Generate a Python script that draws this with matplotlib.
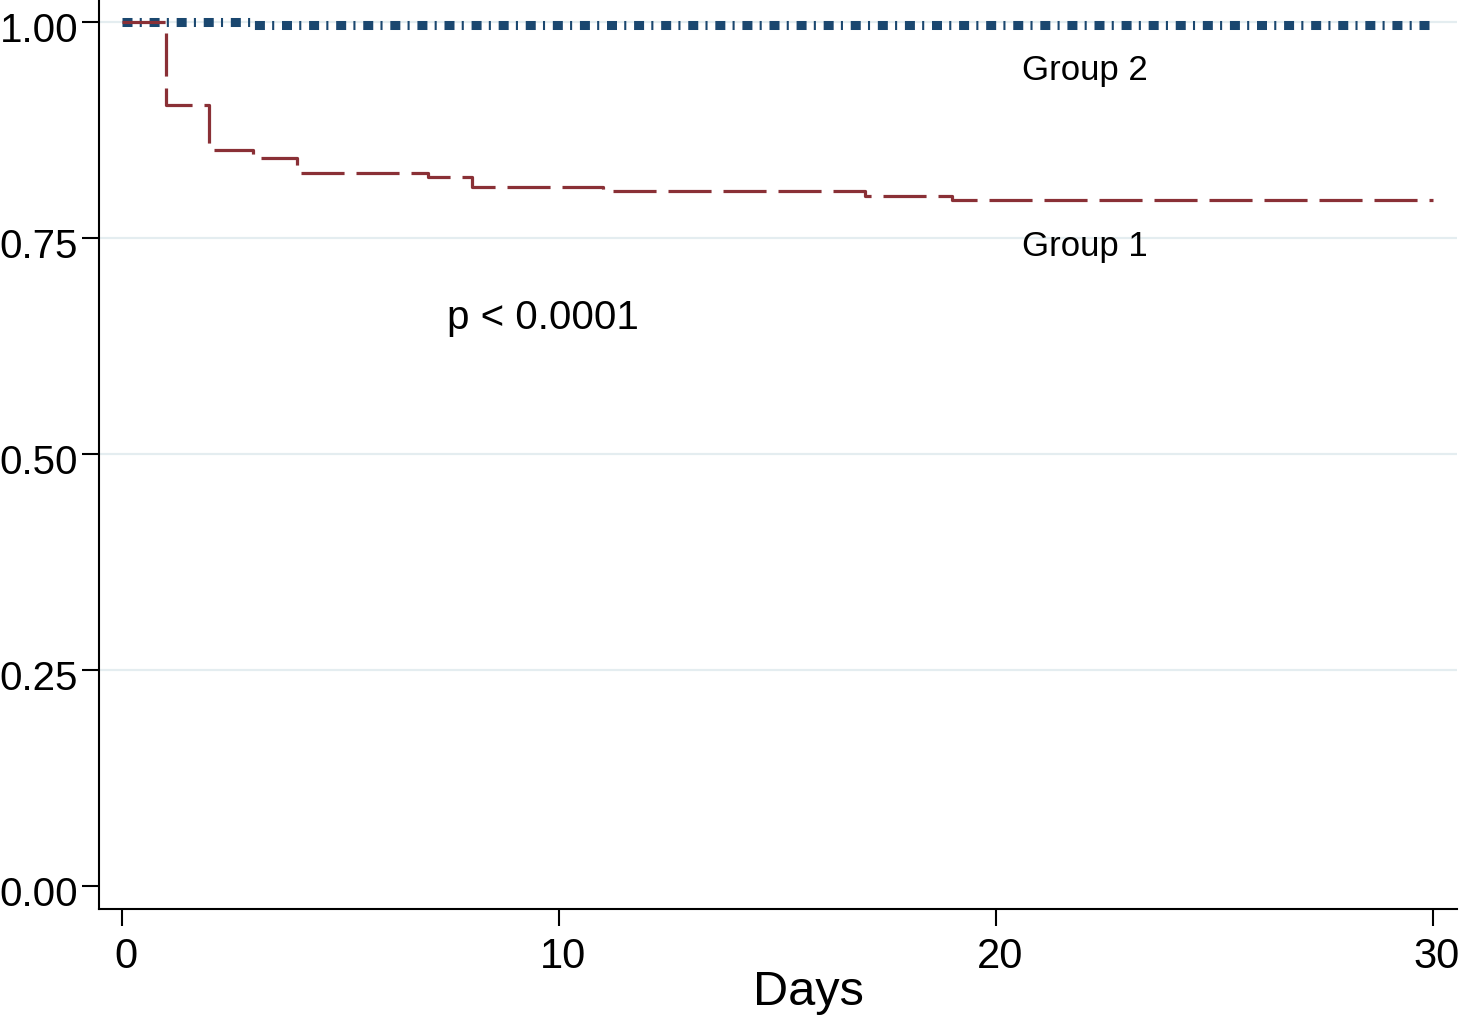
import numpy as np
import matplotlib.pyplot as plt
import matplotlib.transforms as mtransforms

# Kaplan-Meier style survival curves
g1_days = [0, 1, 2, 3, 4, 7, 8, 11, 17, 19, 30]
g1_surv = [1.0, 0.904, 0.852, 0.843, 0.825, 0.821, 0.809, 0.804, 0.799, 0.794, 0.794]
g2_days = [0, 3, 30]
g2_surv = [1.0, 0.996, 0.996]

y_ticks = [0.0, 0.25, 0.5, 0.75, 1.0]
y_labels = ['0.00', '0.25', '0.50', '0.75', '1.00']
x_ticks = [0, 10, 20, 30]
grid_levels = [0.25, 0.5, 0.75, 1.0]

navy = '#1a476f'
maroon = '#8a3036'

plt.rcParams['font.family'] = ['Liberation Sans', 'DejaVu Sans']
plt.rcParams['lines.scale_dashes'] = False

fig = plt.figure(figsize=(14.65, 10.21), dpi=100)
ax = fig.add_axes([99 / 1465, 1 - 909 / 1021, 1358 / 1465, 909 / 1021])

for lvl in grid_levels:
    ax.axhline(lvl, color='#e4edf0', lw=1.6, zorder=0)

ax.step(g2_days, g2_surv, where='post', color=navy, lw=6.5,
        dashes=(7.2, 5.2, 1.5, 5.6), dash_capstyle='butt', zorder=2)
ax.step(g1_days, g1_surv, where='post', color=maroon, lw=2.3,
        dashes=(31, 8.6), dash_capstyle='butt', zorder=3)

ax.text(20.6, 0.944, 'Group 2', fontsize=25, va='center', ha='left')
ax.text(20.6, 0.740, 'Group 1', fontsize=25, va='center', ha='left')
ax.text(7.44, 0.657, 'p < 0.0001', fontsize=29, va='center', ha='left')

ax.set_xlim(-0.526, 30.55)
ax.set_ylim(-0.0266, 1.0255)
ax.set_yticks(y_ticks)
ax.set_yticklabels(y_labels)
ax.set_xticks(x_ticks)

ax.spines['top'].set_visible(False)
ax.spines['right'].set_visible(False)
for s in ('left', 'bottom'):
    ax.spines[s].set_linewidth(1.5)
ax.tick_params(axis='y', length=12, width=1.5, pad=3, labelsize=29)
ax.tick_params(axis='x', length=12, width=1.5, pad=8, labelsize=30)

# nudge tick labels a little like the original
shift_y = mtransforms.ScaledTranslation(0, -5 / 100, fig.dpi_scale_trans)
for lab in ax.get_yticklabels():
    lab.set_transform(lab.get_transform() + shift_y)
shift_x = mtransforms.ScaledTranslation(4 / 100, 0, fig.dpi_scale_trans)
for lab in ax.get_xticklabels():
    lab.set_transform(lab.get_transform() + shift_x)

ax.set_xlabel('Days', fontsize=35)
ax.xaxis.set_label_coords((808 - 99) / 1358, -0.0924)
ax.xaxis.label.set_va('center')

fig.savefig('out.png', dpi=100)
